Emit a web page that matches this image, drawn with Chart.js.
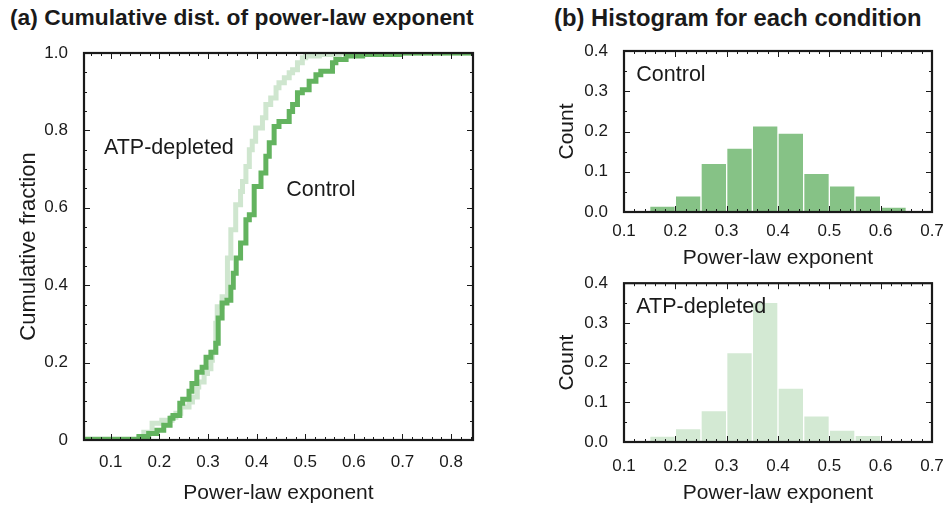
<!DOCTYPE html>
<html><head><meta charset="utf-8">
<script src="https://cdn.jsdelivr.net/npm/chart.js@4/dist/chart.umd.min.js"></script>
<style>
html,body{margin:0;padding:0;background:#fff;width:951px;height:506px;overflow:hidden;font-family:"Liberation Sans",Arial,sans-serif;}
.t{position:absolute;font-weight:bold;color:#1a1a1a;white-space:nowrap;line-height:1;}
canvas{position:absolute;}
</style></head><body>
<div class="t" style="left:10px;top:6px;font-size:22.8px">(a) Cumulative dist. of power-law exponent</div>
<div class="t" style="left:554px;top:6px;font-size:23.8px">(b) Histogram for each condition</div>
<canvas id="ca" width="480" height="506" style="left:0;top:0"></canvas>
<canvas id="cb" width="471" height="275" style="left:480px;top:0"></canvas>
<canvas id="cc" width="471" height="241" style="left:480px;top:265px"></canvas>
<script>
// ---- data ----
const cdfControlX = [0.042,0.158,0.178,0.195,0.209,0.222,0.228,0.242,0.248,0.261,0.267,0.277,0.288,0.296,0.306,0.316,0.321,0.329,0.339,0.347,0.352,0.358,0.367,0.378,0.385,0.395,0.409,0.419,0.426,0.436,0.446,0.467,0.474,0.484,0.494,0.508,0.522,0.532,0.556,0.563,0.584,0.618,0.694,0.72,0.85];
const cdfControlY = [0,0.001,0.009,0.017,0.025,0.038,0.056,0.063,0.095,0.105,0.126,0.146,0.175,0.188,0.214,0.227,0.250,0.315,0.354,0.361,0.395,0.431,0.470,0.509,0.569,0.582,0.655,0.690,0.733,0.768,0.810,0.823,0.849,0.867,0.897,0.905,0.927,0.944,0.953,0.975,0.983,0.992,0.996,1.0,1.0];
const cdfAtpX = [0.042,0.158,0.168,0.185,0.205,0.226,0.234,0.244,0.261,0.268,0.278,0.281,0.292,0.299,0.306,0.309,0.316,0.319,0.329,0.340,0.347,0.357,0.367,0.371,0.378,0.385,0.391,0.398,0.412,0.419,0.429,0.440,0.446,0.457,0.467,0.474,0.484,0.494,0.501,0.529,0.570,0.625,0.85];
const cdfAtpY = [0,0.003,0.006,0.020,0.043,0.051,0.059,0.069,0.085,0.098,0.111,0.137,0.150,0.172,0.184,0.206,0.227,0.302,0.344,0.370,0.470,0.543,0.608,0.642,0.668,0.707,0.750,0.772,0.806,0.833,0.867,0.884,0.910,0.923,0.936,0.949,0.957,0.975,0.988,0.992,0.996,1.0,1.0];
const histBinCenters = [0.175,0.225,0.275,0.325,0.375,0.425,0.475,0.525,0.575,0.625];
const histControl = [0.015,0.040,0.121,0.159,0.214,0.196,0.096,0.065,0.040,0.012];
const histAtp = [0.015,0.034,0.079,0.225,0.352,0.136,0.066,0.030,0.017,0];
const cdfXTicks = [0.1,0.2,0.3,0.4,0.5,0.6,0.7,0.8];
const cdfYTicks = [0,0.2,0.4,0.6,0.8,1.0];
const histXTicks = [0.1,0.2,0.3,0.4,0.5,0.6,0.7];
const histYTicks = [0,0.1,0.2,0.3,0.4];

// ---- styling ----
const FONT = '"Liberation Sans", Arial, sans-serif';
const INK = '#1a1a1a';
const C_DARK = '#63b35f', C_LIGHT = '#cfe6cf', BAR_DARK = '#86c286', BAR_LIGHT = '#d3e9d3';
Chart.defaults.font.family = FONT;
Chart.defaults.color = INK;
Chart.defaults.animation = false;
Chart.defaults.devicePixelRatio = 1;

function range(a, b, s) { const r = []; for (let v = a; v <= b + 1e-9; v += s) r.push(+v.toFixed(4)); return r; }

function frame(o) {
  return {
    id: 'frame',
    afterDatasetsDraw(chart) {
      const {ctx, chartArea: a} = chart, sx = chart.scales.x, sy = chart.scales.y;
      ctx.save();
      (o.labels || []).forEach(l => {
        ctx.font = '21.5px ' + FONT; ctx.fillStyle = INK; ctx.textAlign = 'left'; ctx.textBaseline = 'middle';
        ctx.fillText(l.text, sx.getPixelForValue(l.x), sy.getPixelForValue(l.y));
      });
      ctx.strokeStyle = INK; ctx.lineWidth = 1; ctx.beginPath();
      const mark = (vals, len, s, h) => vals.forEach(v => {
        const p = Math.round(s.getPixelForValue(v)) + 0.5;
        if (h) { if (p < a.left + 1 || p > a.right - 1) return;
          ctx.moveTo(p, a.bottom); ctx.lineTo(p, a.bottom - len); ctx.moveTo(p, a.top); ctx.lineTo(p, a.top + len); }
        else { if (p < a.top + 1 || p > a.bottom - 1) return;
          ctx.moveTo(a.left, p); ctx.lineTo(a.left + len, p); ctx.moveTo(a.right, p); ctx.lineTo(a.right - len, p); }
      });
      mark(o.xMajor, 6, sx, true); mark(o.xMinor, 3, sx, true);
      mark(o.yMajor, 6, sy, false); mark(o.yMinor, 3, sy, false);
      ctx.stroke();
      ctx.lineWidth = 2.2;
      ctx.strokeRect(a.left, a.top, a.right - a.left, a.bottom - a.top);
      ctx.restore();
    }
  };
}

function axisX(ticks, min, max, h, titlePadBottom, labelPad) {
  return {
    type: 'linear', min, max, offset: false,
    grid: {display: false, offset: false}, border: {display: false},
    afterBuildTicks: s => { s.ticks = ticks.map(v => ({value: v})); },
    afterFit: s => { s.height = h; },
    ticks: {font: {size: 17}, padding: labelPad, maxRotation: 0, callback: v => v.toFixed(1)},
    title: {display: true, text: 'Power-law exponent', font: {size: 21}, padding: {top: 0, bottom: titlePadBottom}}
  };
}
function axisY(ticks, min, max, w, title, titlePadTop, fmt, titleSize) {
  return {
    type: 'linear', min, max,
    grid: {display: false}, border: {display: false},
    afterBuildTicks: s => { s.ticks = ticks.map(v => ({value: v})); },
    afterFit: s => { s.width = w; },
    ticks: {font: {size: 17}, padding: 8, callback: fmt},
    title: {display: true, text: title, font: {size: titleSize}, padding: {top: titlePadTop, bottom: 0}}
  };
}

// (a) cumulative distributions
new Chart(document.getElementById('ca'), {
  type: 'line',
  data: {datasets: [
    {label: 'Control', data: cdfControlX.map((x, i) => ({x, y: cdfControlY[i]})), borderColor: C_DARK, borderWidth: 5, stepped: 'after', pointRadius: 0, fill: false},
    {label: 'ATP-depleted', data: cdfAtpX.map((x, i) => ({x, y: cdfAtpY[i]})), borderColor: C_LIGHT, borderWidth: 5, stepped: 'after', pointRadius: 0, fill: false}
  ]},
  options: {
    responsive: false, animation: false,
    layout: {padding: {top: 53, right: 7, left: 0, bottom: 0}},
    plugins: {legend: {display: false}, tooltip: {enabled: false}},
    scales: {
      x: axisX(cdfXTicks, 0.045, 0.845, 66, 0, 4),
      y: axisY(cdfYTicks, 0, 1, 84, 'Cumulative fraction', 16, v => v === 0 ? '0' : v.toFixed(1), 22)
    }
  },
  plugins: [frame({xMajor: cdfXTicks, xMinor: range(0.06, 0.84, 0.02), yMajor: cdfYTicks, yMinor: range(0, 1, 0.05),
    labels: [{text: 'ATP-depleted', x: 0.086, y: 0.755}, {text: 'Control', x: 0.461, y: 0.646}]})]
});

function hist(id, values, color, label, padTop, xh, titleBottom, labelPad) {
  new Chart(document.getElementById(id), {
    type: 'bar',
    data: {datasets: [{label, data: histBinCenters.map((x, i) => ({x, y: values[i]})), backgroundColor: color,
      borderColor: '#ffffff', borderWidth: {top: 1, left: 1, right: 1, bottom: 0}, borderSkipped: false,
      barPercentage: 1, categoryPercentage: 1}]},
    options: {
      responsive: false, animation: false,
      layout: {padding: {top: padTop, right: 19, left: 0, bottom: 0}},
      plugins: {legend: {display: false}, tooltip: {enabled: false}},
      scales: {
        x: axisX(histXTicks, 0.1, 0.7, xh, titleBottom, labelPad),
        y: axisY(histYTicks, 0, 0.4, 144, 'Count', 75, v => v.toFixed(1), 21)
      }
    },
    plugins: [frame({xMajor: histXTicks, xMinor: range(0.1, 0.7, 0.02), yMajor: histYTicks, yMinor: range(0, 0.4, 0.05),
      labels: [{text: label, x: 0.124, y: 0.34}]})]
  });
}
hist('cb', histControl, BAR_DARK, 'Control', 51, 63, 4, 1);
hist('cc', histAtp, BAR_LIGHT, 'ATP-depleted', 14, 64, 0, 6);
</script>
</body></html>
